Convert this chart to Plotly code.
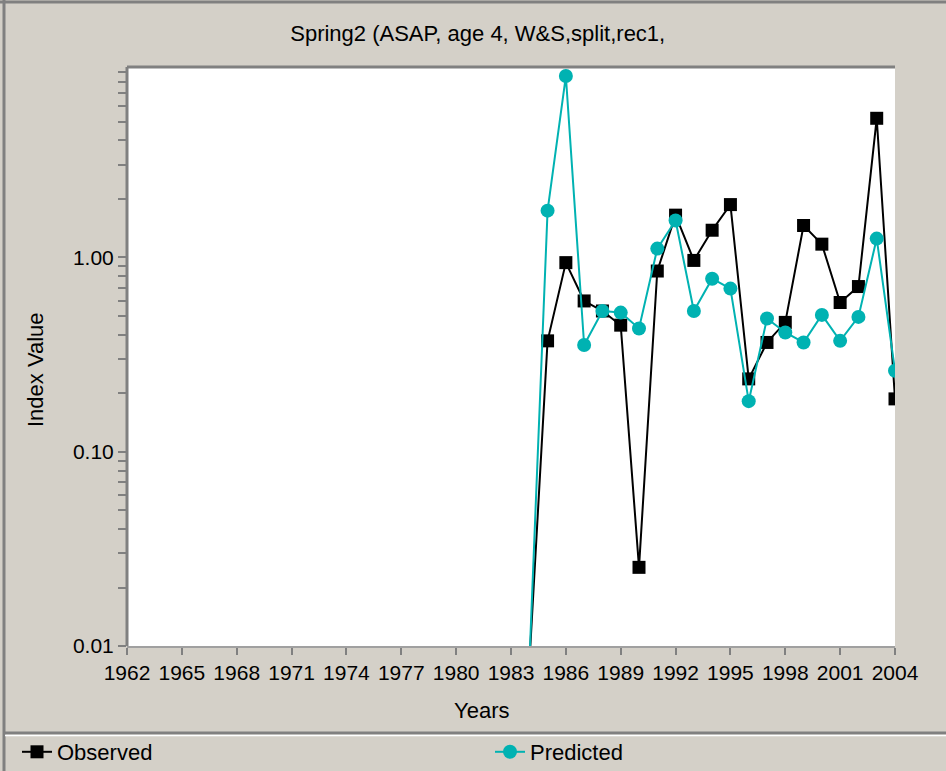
import plotly.graph_objects as go

years = list(range(1984, 2005))
observed = [0.008, 0.372, 0.94, 0.597, 0.530, 0.448, 0.0254, 0.851, 1.65, 0.965, 1.38,
            1.87, 0.237, 0.365, 0.463, 1.46, 1.17, 0.586, 0.708, 5.2, 0.187]
predicted = [0.008, 1.74, 8.58, 0.354, 0.530, 0.520, 0.431, 1.11, 1.55, 0.530, 0.777,
             0.691, 0.182, 0.485, 0.411, 0.365, 0.506, 0.372, 0.494, 1.25, 0.261]

x_ticks = list(range(1962, 2005, 3))
y_major = [0.01, 0.1, 1.0]
y_major_text = ["0.01", "0.10", "1.00"]
y_minor = [k * 10.0 ** e for e in (-2, -1, 0) for k in range(2, 10)]

W, H = 946, 771
L, R, T, B = 127, 895, 67, 646
PW, PH = R - L, B - T

def px(x):
    return (x - L) / PW

def py(y):
    return (B - y) / PH

BG = "#d4d0c8"
TEAL = "#00b2b2"
FONT = "Liberation Sans, Arial, sans-serif"

fig = go.Figure()
fig.add_trace(go.Scatter(
    x=years, y=observed, name="Observed", mode="lines+markers",
    line=dict(color="black", width=2),
    marker=dict(symbol="square", size=13, color="black"),
    legend="legend",
))
fig.add_trace(go.Scatter(
    x=years, y=predicted, name="Predicted", mode="lines+markers",
    line=dict(color=TEAL, width=2),
    marker=dict(symbol="circle", size=14, color=TEAL),
    legend="legend2",
))

shapes = [
    # plot frame
    dict(type="line", xref="paper", yref="paper", x0=0, x1=1, y0=1, y1=1,
         line=dict(color="#808080", width=3)),
    dict(type="line", xref="paper", yref="paper", x0=0, x1=0, y0=0, y1=1,
         line=dict(color="#808080", width=3)),
    # outer frame
    dict(type="line", xref="paper", yref="paper", x0=px(0), x1=px(W), y0=py(2), y1=py(2),
         line=dict(color="#808080", width=3)),
    dict(type="line", xref="paper", yref="paper", x0=px(4), x1=px(4), y0=py(0), y1=py(H),
         line=dict(color="#808080", width=3)),
    # legend separator
    dict(type="line", xref="paper", yref="paper", x0=px(4), x1=px(W), y0=py(733), y1=py(733),
         line=dict(color="#808080", width=3)),
    dict(type="line", xref="paper", yref="paper", x0=px(5), x1=px(W), y0=py(735.5), y1=py(735.5),
         line=dict(color="white", width=1.5)),
]

legend_common = dict(orientation="h", xanchor="left", yanchor="middle",
                     bgcolor="rgba(0,0,0,0)", font=dict(size=22, family=FONT, color="black"))

fig.update_layout(
    width=W, height=H,
    margin=dict(l=L, r=W - R, t=T, b=H - B, pad=0, autoexpand=False),
    paper_bgcolor=BG, plot_bgcolor="white",
    font=dict(family=FONT, size=21, color="black"),
    title=dict(text="Spring2 (ASAP, age 4, W&S,split,rec1,", x=0.505, xref="container",
               y=1 - 33 / H, yref="container", xanchor="center", yanchor="middle",
               font=dict(size=22, family=FONT, color="black")),
    showlegend=True,
    legend=dict(x=px(17), y=py(752), **legend_common),
    legend2=dict(x=px(490), y=py(752), **legend_common),
    shapes=shapes,
    annotations=[
        dict(text="Years", xref="paper", yref="paper", x=px(481), y=py(710),
             showarrow=False, xanchor="center", yanchor="middle", font=dict(size=22)),
        dict(text="Index Value", xref="paper", yref="paper", x=px(35), y=py(370),
             showarrow=False, textangle=-90, xanchor="center", yanchor="middle",
             font=dict(size=22)),
    ],
)

fig.update_xaxes(
    range=[1962, 2004], tickmode="array", tickvals=x_ticks,
    ticks="outside", ticklen=7, tickwidth=2, tickcolor="#808080",
    showline=True, linecolor="#a0a0a0", linewidth=2, mirror=False,
    showgrid=False, zeroline=False, tickfont=dict(size=21),
)
fig.update_yaxes(
    type="log", range=[-2, 0.98], tickmode="array", tickvals=y_major, ticktext=y_major_text,
    ticks="outside", ticklen=8, tickwidth=2, tickcolor="#808080",
    minor=dict(tickmode="array", tickvals=y_minor, ticks="outside", ticklen=8,
               tickwidth=2, tickcolor="#808080", showgrid=False),
    showline=False, showgrid=False, zeroline=False, tickfont=dict(size=21),
)

fig.write_html(
    "out.html",
    config={"displayModeBar": False},
    post_script="document.body.style.margin='0px';document.body.style.overflow='hidden';",
)
